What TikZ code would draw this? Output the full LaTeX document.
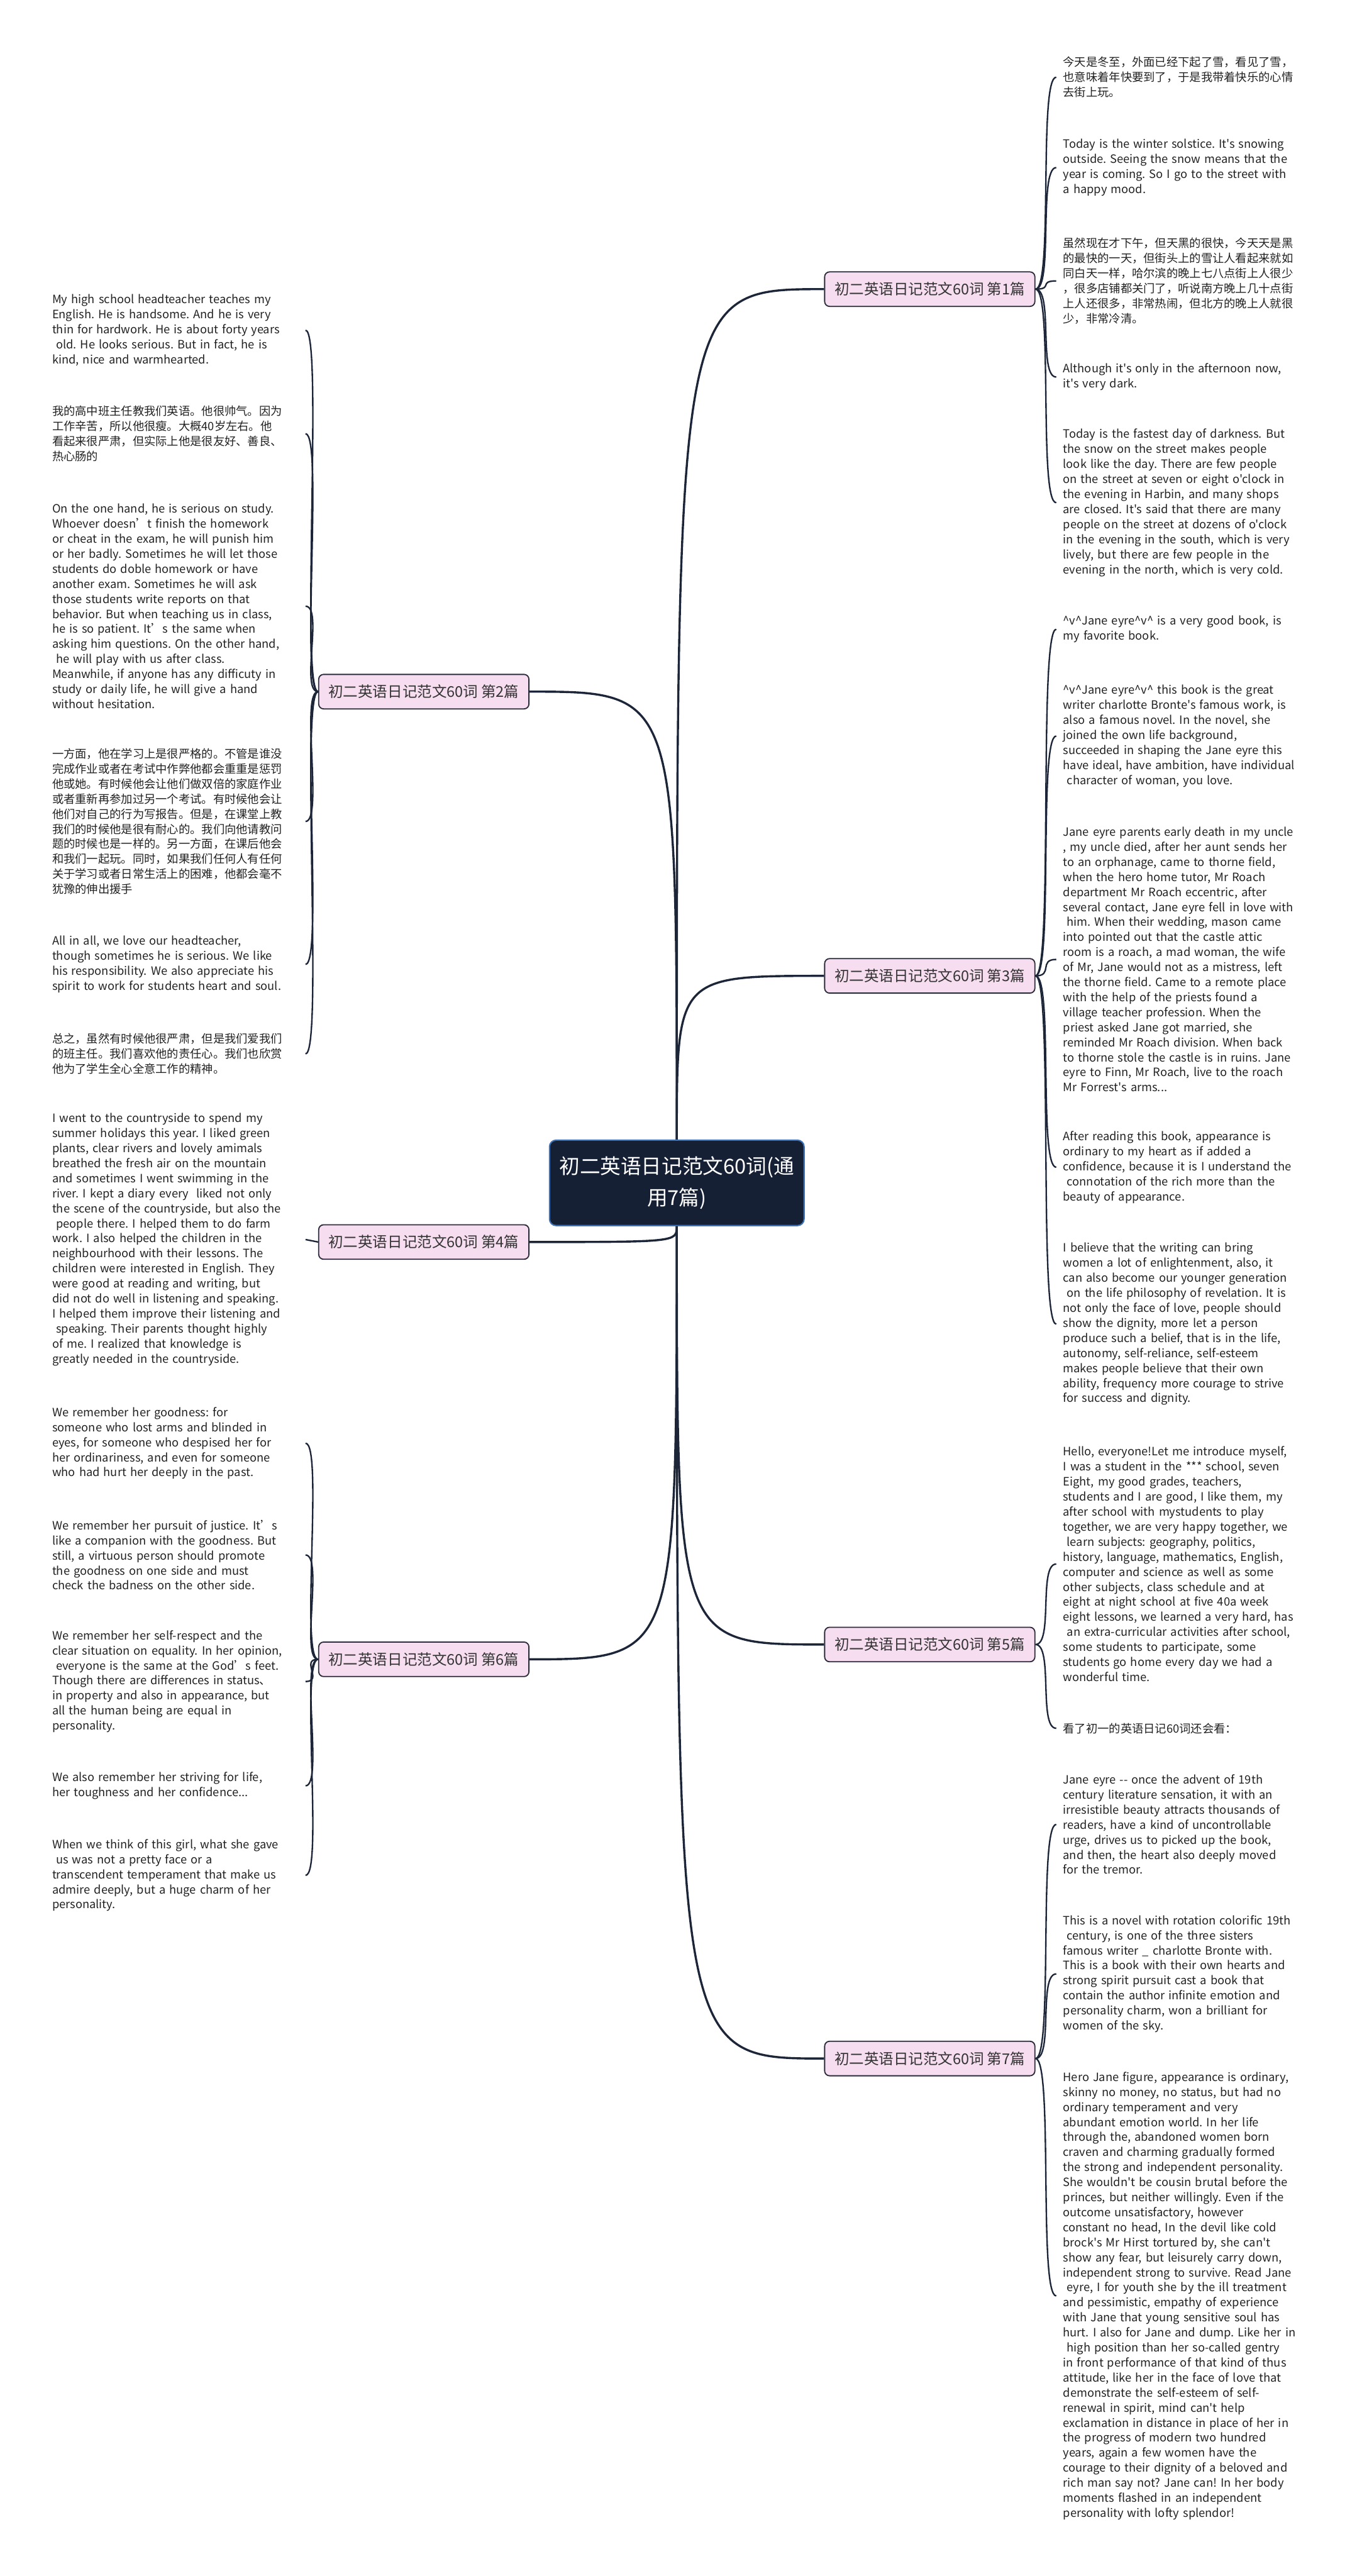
\documentclass[tikz,border=0pt]{standalone}
\usepackage{fontspec}
\setmainfont{Noto Sans CJK SC}
\newfontfamily\notefont{Noto Sans CJK SC}
\usepackage{tikz}
\frenchspacing

\definecolor{rootfill}{HTML}{152034}
\definecolor{rootline}{HTML}{3F73B8}
\definecolor{topicfill}{HTML}{F6DDF0}
\definecolor{topicline}{HTML}{2B2B3B}
\definecolor{topictext}{HTML}{333333}
\definecolor{linkcol}{HTML}{1C2638}
\definecolor{notetext}{HTML}{222222}

\begin{document}
\begin{tikzpicture}[x=1pt,y=-1pt,
    root/.style={draw=rootline,line width=0.8pt,fill=rootfill,rounded corners=4pt,text=white,
        font=\notefont\fontsize{12.5}{19}\selectfont,align=center,minimum width=155pt,minimum height=52pt,inner sep=0pt},
    topic/.style={draw=topicline,line width=0.7pt,fill=topicfill,rounded corners=3pt,text=topictext,
        font=\notefont\fontsize{9}{11}\selectfont,minimum width=128pt,minimum height=21pt,inner sep=0pt},
    rnote/.style={anchor=west,align=left,text width=170pt,inner xsep=4pt,inner ysep=1pt,text=notetext,
        font=\notefont\fontsize{7}{9.15}\selectfont},
    lnote/.style={anchor=east,align=left,text width=150pt,inner xsep=4pt,inner ysep=1pt,text=notetext,
        font=\notefont\fontsize{7}{9.15}\selectfont},
    trunk/.style={draw=linkcol,line width=1.3pt},
    twig/.style={draw=linkcol,line width=0.9pt}]

    \fill[white] (0,0) rectangle (823,1568);
    \useasboundingbox (0,0) rectangle (823,1568);

    % centre and the seven topics
    \node[root] (root) at (412,720) {初二英语日记范文60词(通\\用7篇)};
    \node[topic] (b1) at (566,176) {初二英语日记范文60词 第1篇};
    \node[topic] (b2) at (258,421) {初二英语日记范文60词 第2篇};
    \node[topic] (b3) at (566,594) {初二英语日记范文60词 第3篇};
    \node[topic] (b4) at (258,756) {初二英语日记范文60词 第4篇};
    \node[topic] (b5) at (566,1001) {初二英语日记范文60词 第5篇};
    \node[topic] (b6) at (258,1010) {初二英语日记范文60词 第6篇};
    \node[topic] (b7) at (566,1253) {初二英语日记范文60词 第7篇};

    \draw[trunk] (root.north) .. controls (root.north |- b1) .. (b1.west);
    \draw[trunk] (root.north) .. controls (root.north |- b2) .. (b2.east);
    \draw[trunk] (root.north) .. controls (root.north |- b3) .. (b3.west);
    \draw[trunk] (root.south) .. controls (root.south |- b4) .. (b4.east);
    \draw[trunk] (root.south) .. controls (root.south |- b5) .. (b5.west);
    \draw[trunk] (root.south) .. controls (root.south |- b6) .. (b6.east);
    \draw[trunk] (root.south) .. controls (root.south |- b7) .. (b7.west);

    % topic 1
    \node[rnote] (n1a) at (643,47) {今天是冬至，外面已经下起了雪，看见了雪，\\也意味着年快要到了，于是我带着快乐的心情\\去街上玩。};
    \node[rnote] (n1b) at (643,102) {Today is the winter solstice. It's snowing\\outside. Seeing the snow means that the\\year is coming. So I go to the street with\\a happy mood.};
    \node[rnote] (n1c) at (643,171) {虽然现在才下午，但天黑的很快，今天天是黑\\的最快的一天，但街头上的雪让人看起来就如\\同白天一样，哈尔滨的晚上七八点街上人很少\\，很多店铺都关门了，听说南方晚上几十点街\\上人还很多，非常热闹，但北方的晚上人就很\\少，非常冷清。};
    \node[rnote] (n1d) at (643,229.5) {Although it's only in the afternoon now,\\it's very dark.};
    \node[rnote] (n1e) at (643,306) {Today is the fastest day of darkness. But\\the snow on the street makes people\\look like the day. There are few people\\on the street at seven or eight o'clock in\\the evening in Harbin, and many shops\\are closed. It's said that there are many\\people on the street at dozens of o'clock\\in the evening in the south, which is very\\lively, but there are few people in the\\evening in the north, which is very cold.};
    \foreach \n in {n1a,n1b,n1c,n1d,n1e}
        \draw[twig] (b1.east) .. controls +(11,0) and +(-11,0) .. (\n.west);

    % topic 2
    \node[lnote] (n2a) at (186,201) {My high school headteacher teaches my\\English. He is handsome. And he is very\\thin for hardwork. He is about forty years\\\ old. He looks serious. But in fact, he is\\kind, nice and warmhearted.};
    \node[lnote] (n2b) at (186,264) {我的高中班主任教我们英语。他很帅气。因为\\工作辛苦，所以他很瘦。大概40岁左右。他\\看起来很严肃，但实际上他是很友好、善良、\\热心肠的};
    \node[lnote] (n2c) at (186,369) {On the one hand, he is serious on study.\\Whoever doesn’t finish the homework\\or cheat in the exam, he will punish him\\or her badly. Sometimes he will let those\\students do doble homework or have\\another exam. Sometimes he will ask\\those students write reports on that\\behavior. But when teaching us in class,\\he is so patient. It’s the same when\\asking him questions. On the other hand,\\\ he will play with us after class.\\Meanwhile, if anyone has any difficuty in\\study or daily life, he will give a hand\\without hesitation.};
    \node[lnote] (n2d) at (186,500) {一方面，他在学习上是很严格的。不管是谁没\\完成作业或者在考试中作弊他都会重重是惩罚\\他或她。有时候他会让他们做双倍的家庭作业\\或者重新再参加过另一个考试。有时候他会让\\他们对自己的行为写报告。但是，在课堂上教\\我们的时候他是很有耐心的。我们向他请教问\\题的时候也是一样的。另一方面，在课后他会\\和我们一起玩。同时，如果我们任何人有任何\\关于学习或者日常生活上的困难，他都会毫不\\犹豫的伸出援手};
    \node[lnote] (n2e) at (186,587) {All in all, we love our headteacher,\\though sometimes he is serious. We like\\his responsibility. We also appreciate his\\spirit to work for students heart and soul.};
    \node[lnote] (n2f) at (186,641.5) {总之，虽然有时候他很严肃，但是我们爱我们\\的班主任。我们喜欢他的责任心。我们也欣赏\\他为了学生全心全意工作的精神。};
    \foreach \n in {n2a,n2b,n2c,n2d,n2e,n2f}
        \draw[twig] (b2.west) .. controls +(-11,0) and +(11,0) .. (\n.east);

    % topic 3
    \node[rnote] (n3a) at (643,383) {\textasciicircum v\textasciicircum Jane eyre\textasciicircum v\textasciicircum\ is a very good book, is\\my favorite book.};
    \node[rnote] (n3b) at (643,448) {\textasciicircum v\textasciicircum Jane eyre\textasciicircum v\textasciicircum\ this book is the great\\writer charlotte Bronte's famous work, is\\also a famous novel. In the novel, she\\joined the own life background,\\succeeded in shaping the Jane eyre this\\have ideal, have ambition, have individual\\\ character of woman, you love.};
    \node[rnote] (n3c) at (643,584) {Jane eyre parents early death in my uncle\\, my uncle died, after her aunt sends her\\to an orphanage, came to thorne field,\\when the hero home tutor, Mr Roach\\department Mr Roach eccentric, after\\several contact, Jane eyre fell in love with\\\ him. When their wedding, mason came\\into pointed out that the castle attic\\room is a roach, a mad woman, the wife\\of Mr, Jane would not as a mistress, left\\the thorne field. Came to a remote place\\with the help of the priests found a\\village teacher profession. When the\\priest asked Jane got married, she\\reminded Mr Roach division. When back\\to thorne stole the castle is in ruins. Jane\\eyre to Finn, Mr Roach, live to the roach\\Mr Forrest's arms...};
    \node[rnote] (n3d) at (643,710.5) {After reading this book, appearance is\\ordinary to my heart as if added a\\confidence, because it is I understand the\\\ connotation of the rich more than the\\beauty of appearance.};
    \node[rnote] (n3e) at (643,806) {I believe that the writing can bring\\women a lot of enlightenment, also, it\\can also become our younger generation\\\ on the life philosophy of revelation. It is\\not only the face of love, people should\\show the dignity, more let a person\\produce such a belief, that is in the life,\\autonomy, self-reliance, self-esteem\\makes people believe that their own\\ability, frequency more courage to strive\\for success and dignity.};
    \foreach \n in {n3a,n3b,n3c,n3d,n3e}
        \draw[twig] (b3.east) .. controls +(11,0) and +(-11,0) .. (\n.west);

    % topic 4
    \node[lnote] (n4a) at (186,754.5) {I went to the countryside to spend my\\summer holidays this year. I liked green\\plants, clear rivers and lovely amimals\\breathed the fresh air on the mountain\\and sometimes I went swimming in the\\river. I kept a diary every \ liked not only\\the scene of the countryside, but also the\\\ people there. I helped them to do farm\\work. I also helped the children in the\\neighbourhood with their lessons. The\\children were interested in English. They\\were good at reading and writing, but\\did not do well in listening and speaking.\\I helped them improve their listening and\\\ speaking. Their parents thought highly\\of me. I realized that knowledge is\\greatly needed in the countryside.};
    \draw[twig] (b4.west) -- (n4a.east);

    % topic 5
    \node[rnote] (n5a) at (643,952) {Hello, everyone!Let me introduce myself,\\I was a student in the *** school, seven\\Eight, my good grades, teachers,\\students and I are good, I like them, my\\after school with mystudents to play\\together, we are very happy together, we\\\ learn subjects: geography, politics,\\history, language, mathematics, English,\\computer and science as well as some\\other subjects, class schedule and at\\eight at night school at five 40a week\\eight lessons, we learned a very hard, has\\\ an extra-curricular activities after school,\\some students to participate, some\\students go home every day we had a\\wonderful time.};
    \node[rnote] (n5b) at (643,1052) {看了初一的英语日记60词还会看：};
    \foreach \n in {n5a,n5b}
        \draw[twig] (b5.east) .. controls +(11,0) and +(-11,0) .. (\n.west);

    % topic 6
    \node[lnote] (n6a) at (186,878.5) {We remember her goodness: for\\someone who lost arms and blinded in\\eyes, for someone who despised her for\\her ordinariness, and even for someone\\who had hurt her deeply in the past.};
    \node[lnote] (n6b) at (186,946.5) {We remember her pursuit of justice. It’s\\like a companion with the goodness. But\\still, a virtuous person should promote\\the goodness on one side and must\\check the badness on the other side.};
    \node[lnote] (n6c) at (186,1023.5) {We remember her self-respect and the\\clear situation on equality. In her opinion,\\\ everyone is the same at the God’s feet.\\Though there are differences in status、\\in property and also in appearance, but\\all the human being are equal in\\personality.};
    \node[lnote] (n6d) at (186,1087) {We also remember her striving for life,\\her toughness and her confidence...};
    \node[lnote] (n6e) at (186,1141.5) {When we think of this girl, what she gave\\\ us was not a pretty face or a\\transcendent temperament that make us\\admire deeply, but a huge charm of her\\personality.};
    \foreach \n in {n6a,n6b,n6c,n6d,n6e}
        \draw[twig] (b6.west) .. controls +(-11,0) and +(11,0) .. (\n.east);

    % topic 7
    \node[rnote] (n7a) at (643,1110.5) {Jane eyre -{}- once the advent of 19th\\century literature sensation, it with an\\irresistible beauty attracts thousands of\\readers, have a kind of uncontrollable\\urge, drives us to picked up the book,\\and then, the heart also deeply moved\\for the tremor.};
    \node[rnote] (n7b) at (643,1201.5) {This is a novel with rotation colorific 19th\\\ century, is one of the three sisters\\famous writer \_ charlotte Bronte with.\\This is a book with their own hearts and\\strong spirit pursuit cast a book that\\contain the author infinite emotion and\\personality charm, won a brilliant for\\women of the sky.};
    \node[rnote] (n7c) at (643,1397.5) {Hero Jane figure, appearance is ordinary,\\skinny no money, no status, but had no\\ordinary temperament and very\\abundant emotion world. In her life\\through the, abandoned women born\\craven and charming gradually formed\\the strong and independent personality.\\She wouldn't be cousin brutal before the\\princes, but neither willingly. Even if the\\outcome unsatisfactory, however\\constant no head, In the devil like cold\\brock's Mr Hirst tortured by, she can't\\show any fear, but leisurely carry down,\\independent strong to survive. Read Jane\\\ eyre, I for youth she by the ill treatment\\and pessimistic, empathy of experience\\with Jane that young sensitive soul has\\hurt. I also for Jane and dump. Like her in\\\ high position than her so-called gentry\\in front performance of that kind of thus\\attitude, like her in the face of love that\\demonstrate the self-esteem of self-\\renewal in spirit, mind can't help\\exclamation in distance in place of her in\\the progress of modern two hundred\\years, again a few women have the\\courage to their dignity of a beloved and\\rich man say not? Jane can! In her body\\moments flashed in an independent\\personality with lofty splendor!};
    \foreach \n in {n7a,n7b,n7c}
        \draw[twig] (b7.east) .. controls +(11,0) and +(-11,0) .. (\n.west);

\end{tikzpicture}
\end{document}
